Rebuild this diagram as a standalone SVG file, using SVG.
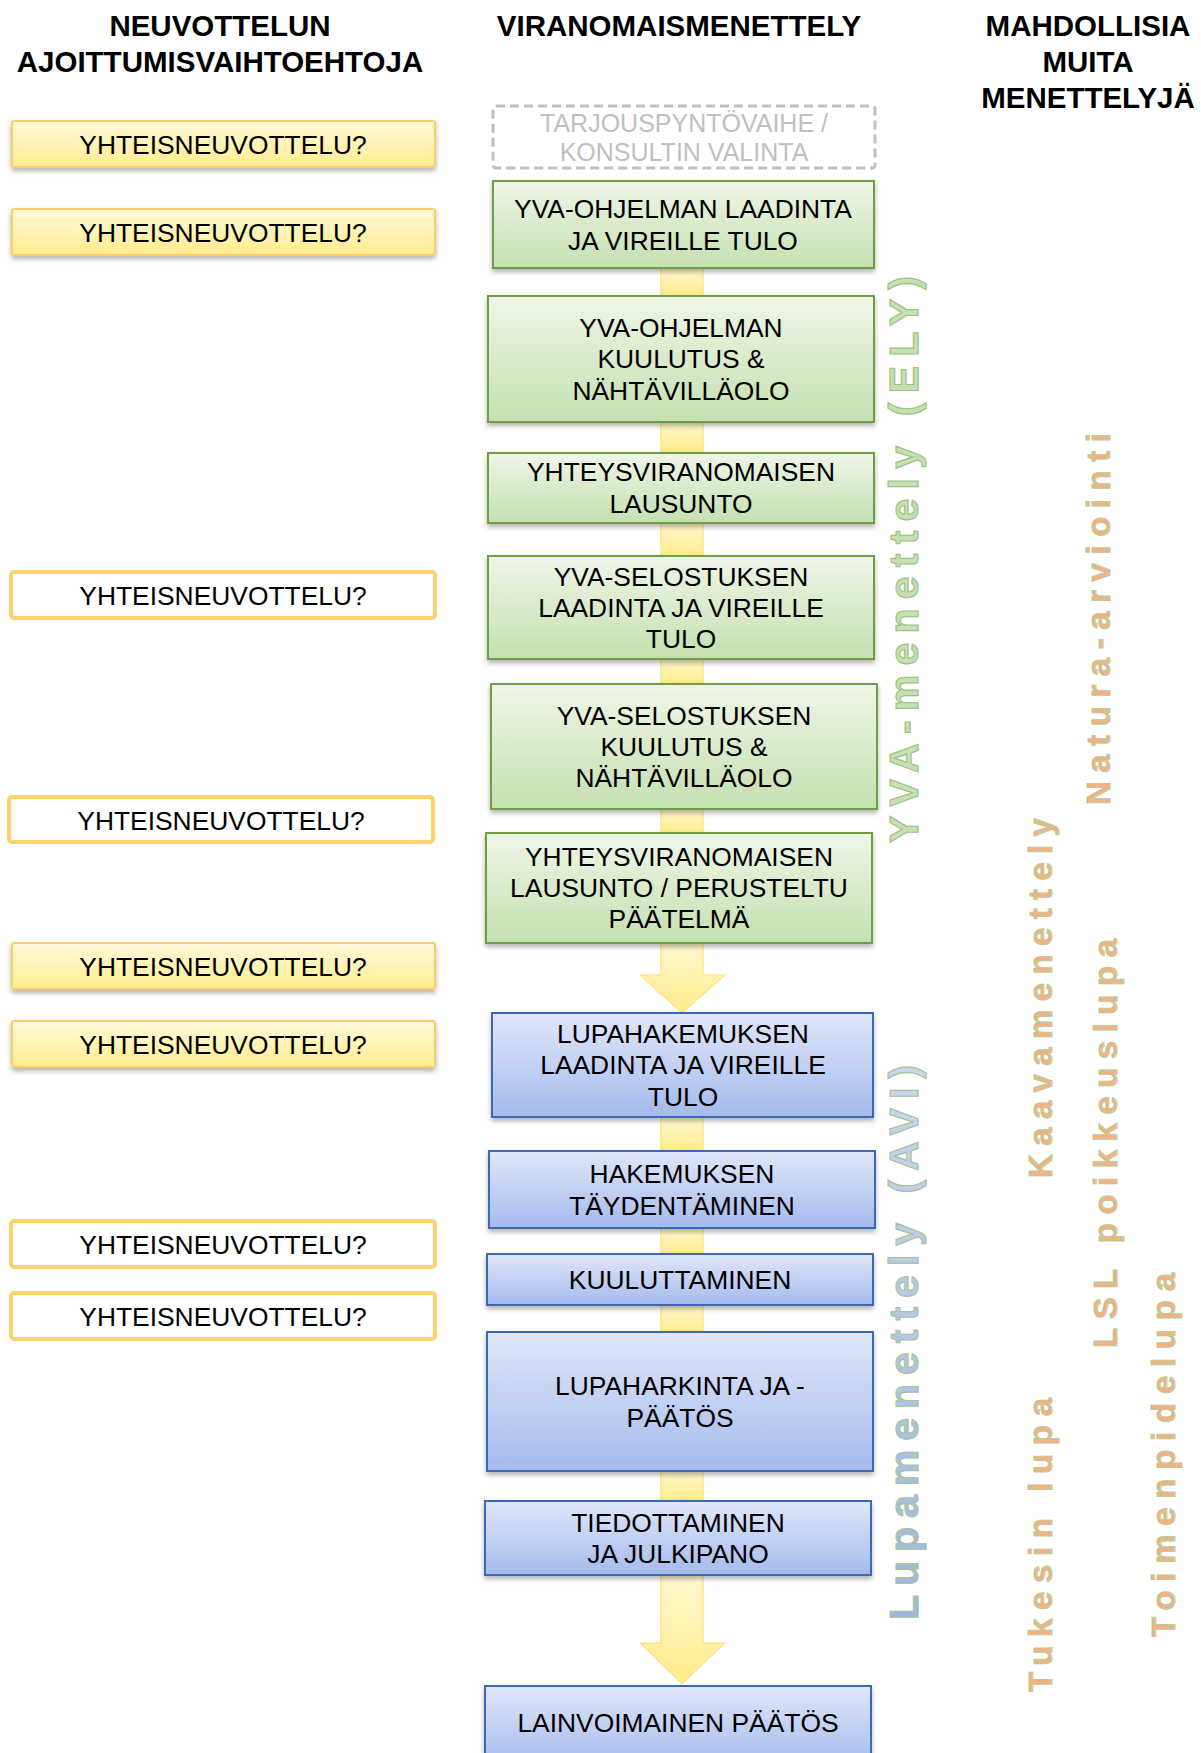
<svg xmlns="http://www.w3.org/2000/svg" width="1201" height="1753" viewBox="0 0 1201 1753">
<defs>
<linearGradient id="gY" x1="0" y1="0" x2="0" y2="1"><stop offset="0" stop-color="#FFFADB"/><stop offset="1" stop-color="#FFEC8E"/></linearGradient>
<linearGradient id="gG" x1="0" y1="0" x2="0" y2="1"><stop offset="0" stop-color="#EFF6E8"/><stop offset="1" stop-color="#C4E0B0"/></linearGradient>
<linearGradient id="gB" x1="0" y1="0" x2="0" y2="1"><stop offset="0" stop-color="#E0E7FA"/><stop offset="1" stop-color="#A5BAEC"/></linearGradient>
<linearGradient id="gA" x1="0" y1="0" x2="0" y2="1"><stop offset="0" stop-color="#FFF8D2"/><stop offset="1" stop-color="#FFEC88"/></linearGradient>
<linearGradient id="gL" x1="0" y1="0" x2="1" y2="0"><stop offset="0" stop-color="#9FB6E0"/><stop offset="1" stop-color="#C9D6EE"/></linearGradient>
<filter id="sh" x="-5%" y="-20%" width="110%" height="150%"><feDropShadow dx="0" dy="3" stdDeviation="2.5" flood-color="#000" flood-opacity="0.3"/></filter>
</defs>
<style>
text{font-family:"Liberation Sans",Arial,sans-serif}
.h{font-size:29.5px;font-weight:bold;fill:#000;text-anchor:middle}
.t{font-size:26.4px;fill:#000;text-anchor:middle}
.ys{fill:url(#gY);stroke:#FFCC66;stroke-width:2}
.yo{fill:#fff;stroke:#FFD070;stroke-width:4}
.gr{fill:url(#gG);stroke:#6E9F44;stroke-width:2}
.bl{fill:url(#gB);stroke:#3C68B5;stroke-width:2}
.bar{fill:url(#gA);stroke:#FFD966;stroke-width:1}
.v{font-weight:bold;stroke-width:1.2}
.vg{font-size:41px;fill:#C6E0B4;stroke:#9DC383}
.vb{font-size:41px;fill:url(#gL);stroke:#A6C49A}
.vo{font-size:33px;fill:#F4B183;stroke:#B3CF98;stroke-width:0.9}
</style>
<rect width="1201" height="1753" fill="#fff"/>

<g id="headers">
<text class="h" x="220" y="36">NEUVOTTELUN</text>
<text class="h" x="220" y="72">AJOITTUMISVAIHTOEHTOJA</text>
<text class="h" x="679" y="36">VIRANOMAISMENETTELY</text>
<text class="h" x="1088" y="36">MAHDOLLISIA</text>
<text class="h" x="1088" y="72">MUITA</text>
<text class="h" x="1088" y="108">MENETTELYJÄ</text>
</g>

<g id="connectors">
<rect class="bar" x="661" y="267" width="42" height="30"/>
<rect class="bar" x="661" y="421" width="42" height="32"/>
<rect class="bar" x="661" y="522" width="42" height="35"/>
<rect class="bar" x="661" y="658" width="42" height="26"/>
<rect class="bar" x="661" y="808" width="42" height="25"/>
<path class="bar" d="M661,942 L703,942 L703,975 L725,975 L682,1013 L640,975 L661,975 Z"/>
<rect class="bar" x="661" y="1116" width="42" height="36"/>
<rect class="bar" x="661" y="1227" width="42" height="28"/>
<rect class="bar" x="661" y="1304" width="42" height="29"/>
<rect class="bar" x="661" y="1470" width="42" height="32"/>
<path class="bar" d="M661,1574 L703,1574 L703,1643 L725,1643 L682,1684 L640,1643 L661,1643 Z"/>
</g>

<g id="neuvottelu1"><rect class="ys" filter="url(#sh)" x="12" y="121" width="423" height="46" rx="2"/><text class="t" x="223" y="154">YHTEISNEUVOTTELU?</text></g>
<g id="neuvottelu2"><rect class="ys" filter="url(#sh)" x="12" y="209" width="423" height="46" rx="2"/><text class="t" x="223" y="242">YHTEISNEUVOTTELU?</text></g>
<g id="neuvottelu3"><rect class="yo" x="11" y="572" width="424" height="46" rx="3"/><text class="t" x="223" y="605">YHTEISNEUVOTTELU?</text></g>
<g id="neuvottelu4"><rect class="yo" x="9" y="797" width="424" height="45" rx="3"/><text class="t" x="221" y="830">YHTEISNEUVOTTELU?</text></g>
<g id="neuvottelu5"><rect class="ys" filter="url(#sh)" x="12" y="943" width="423" height="46" rx="2"/><text class="t" x="223" y="976">YHTEISNEUVOTTELU?</text></g>
<g id="neuvottelu6"><rect class="ys" filter="url(#sh)" x="12" y="1021" width="423" height="46" rx="2"/><text class="t" x="223" y="1054">YHTEISNEUVOTTELU?</text></g>
<g id="neuvottelu7"><rect class="yo" x="11" y="1221" width="424" height="46" rx="3"/><text class="t" x="223" y="1254">YHTEISNEUVOTTELU?</text></g>
<g id="neuvottelu8"><rect class="yo" x="11" y="1293" width="424" height="46" rx="3"/><text class="t" x="223" y="1326">YHTEISNEUVOTTELU?</text></g>

<g id="tarjous"><rect x="493" y="106" width="382" height="62" rx="3" fill="#fff" stroke="#BFBFBF" stroke-width="3" stroke-dasharray="9,5"/>
<text class="t" style="font-size:25px;fill:#BFBFBF" x="684" y="132">TARJOUSPYNTÖVAIHE /</text>
<text class="t" style="font-size:25px;fill:#BFBFBF" x="684" y="161">KONSULTIN VALINTA</text></g>

<g id="yva1"><rect class="gr" filter="url(#sh)" x="493" y="181" width="381" height="87"/>
<text class="t" x="683" y="218">YVA-OHJELMAN LAADINTA</text><text class="t" x="683" y="250">JA VIREILLE TULO</text></g>
<g id="yva2"><rect class="gr" filter="url(#sh)" x="488" y="296" width="386" height="126"/>
<text class="t" x="681" y="337">YVA-OHJELMAN</text><text class="t" x="681" y="368">KUULUTUS &amp;</text><text class="t" x="681" y="400">NÄHTÄVILLÄOLO</text></g>
<g id="yva3"><rect class="gr" filter="url(#sh)" x="488" y="453" width="386" height="70"/>
<text class="t" x="681" y="481">YHTEYSVIRANOMAISEN</text><text class="t" x="681" y="513">LAUSUNTO</text></g>
<g id="yva4"><rect class="gr" filter="url(#sh)" x="488" y="556" width="386" height="103"/>
<text class="t" x="681" y="586">YVA-SELOSTUKSEN</text><text class="t" x="681" y="617">LAADINTA JA VIREILLE</text><text class="t" x="681" y="648">TULO</text></g>
<g id="yva5"><rect class="gr" filter="url(#sh)" x="491" y="684" width="386" height="125"/>
<text class="t" x="684" y="725">YVA-SELOSTUKSEN</text><text class="t" x="684" y="756">KUULUTUS &amp;</text><text class="t" x="684" y="787">NÄHTÄVILLÄOLO</text></g>
<g id="yva6"><rect class="gr" filter="url(#sh)" x="486" y="833" width="386" height="110"/>
<text class="t" x="679" y="866">YHTEYSVIRANOMAISEN</text><text class="t" x="679" y="897">LAUSUNTO / PERUSTELTU</text><text class="t" x="679" y="928">PÄÄTELMÄ</text></g>

<g id="lupa1"><rect class="bl" filter="url(#sh)" x="492" y="1013" width="381" height="104"/>
<text class="t" x="683" y="1043">LUPAHAKEMUKSEN</text><text class="t" x="683" y="1074">LAADINTA JA VIREILLE</text><text class="t" x="683" y="1106">TULO</text></g>
<g id="lupa2"><rect class="bl" filter="url(#sh)" x="489" y="1151" width="386" height="77"/>
<text class="t" x="682" y="1183">HAKEMUKSEN</text><text class="t" x="682" y="1215">TÄYDENTÄMINEN</text></g>
<g id="lupa3"><rect class="bl" filter="url(#sh)" x="487" y="1254" width="386" height="51"/>
<text class="t" x="680" y="1289">KUULUTTAMINEN</text></g>
<g id="lupa4"><rect class="bl" filter="url(#sh)" x="487" y="1332" width="386" height="139"/>
<text class="t" x="680" y="1395">LUPAHARKINTA JA -</text><text class="t" x="680" y="1427">PÄÄTÖS</text></g>
<g id="lupa5"><rect class="bl" filter="url(#sh)" x="485" y="1501" width="386" height="74"/>
<text class="t" x="678" y="1532">TIEDOTTAMINEN</text><text class="t" x="678" y="1563">JA JULKIPANO</text></g>
<g id="lupa6"><rect class="bl" filter="url(#sh)" x="485" y="1686" width="386" height="80"/>
<text class="t" x="678" y="1732">LAINVOIMAINEN PÄÄTÖS</text></g>

<g id="label-yva"><text class="v vg" transform="translate(918,843) rotate(-90)" textLength="567" lengthAdjust="spacing">YVA-menettely (ELY)</text></g>
<g id="label-lupa"><text class="v vb" transform="translate(918,1620) rotate(-90)" textLength="555" lengthAdjust="spacing">Lupamenettely (AVI)</text></g>
<g id="label-natura"><text class="v vo" transform="translate(1110,805) rotate(-90)" textLength="372" lengthAdjust="spacing">Natura-arviointi</text></g>
<g id="label-kaava"><text class="v vo" transform="translate(1052,1178) rotate(-90)" textLength="360" lengthAdjust="spacing">Kaavamenettely</text></g>
<g id="label-lsl"><text class="v vo" transform="translate(1117,1348) rotate(-90)" textLength="409" lengthAdjust="spacing">LSL poikkeuslupa</text></g>
<g id="label-tukes"><text class="v vo" transform="translate(1052,1692) rotate(-90)" textLength="294" lengthAdjust="spacing">Tukesin lupa</text></g>
<g id="label-toimenpide"><text class="v vo" transform="translate(1175,1637) rotate(-90)" textLength="364" lengthAdjust="spacing">Toimenpidelupa</text></g>
</svg>
